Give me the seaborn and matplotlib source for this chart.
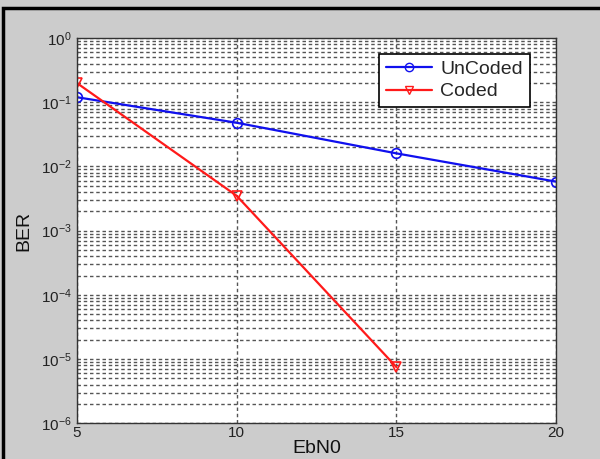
import numpy as np
import pandas as pd
import seaborn as sns
import matplotlib
matplotlib.use("Agg")
import matplotlib.pyplot as plt
from matplotlib.ticker import LogLocator, NullFormatter
from matplotlib.patches import Rectangle
from matplotlib.lines import Line2D

ebn0_uncoded = [5, 10, 15, 20]
ber_uncoded = [0.12, 0.048, 0.016, 0.0058]
ebn0_coded = [5, 10, 15]
ber_coded = [0.2, 0.0035, 7.5e-6]

sns.set_theme(style="white")
plt.rcParams['font.family'] = ['Liberation Sans', 'DejaVu Sans']

df = pd.concat([
    pd.DataFrame({"EbN0": ebn0_uncoded, "BER": ber_uncoded, "series": "UnCoded"}),
    pd.DataFrame({"EbN0": ebn0_coded, "BER": ber_coded, "series": "Coded"}),
])

fig = plt.figure(figsize=(6, 4.59), dpi=100, facecolor="#cccccc")
ax = fig.add_axes([0.128, 0.078, 0.799, 0.839])
ax.set_facecolor("white")

sns.lineplot(data=df, x="EbN0", y="BER", hue="series", style="series",
             palette={"UnCoded": "#1010ee", "Coded": "#ff1a1a"},
             markers={"UnCoded": "o", "Coded": "v"}, dashes=False,
             markersize=7, markerfacecolor="none", markeredgewidth=1.2,
             linewidth=1.6, ax=ax, legend=False)
for line in ax.lines:
    line.set_markeredgecolor(line.get_color())
    line.set_markerfacecolor("none")

ax.set_yscale("log")
ax.set_ylim(1e-6, 1)
ax.set_xlim(5, 20)
ax.set_xticks([5, 10, 15, 20])
ax.yaxis.set_major_locator(LogLocator(base=10, numticks=10))
ax.yaxis.set_minor_locator(LogLocator(base=10, subs=np.arange(2, 10), numticks=20))
ax.yaxis.set_minor_formatter(NullFormatter())

grid_kw = dict(color="#555555", linestyle=(0, (2.5, 2)), linewidth=1.0)
ax.grid(True, which="major", axis="both", **grid_kw)
ax.grid(True, which="minor", axis="y", **grid_kw)
ax.set_axisbelow(True)

ax.tick_params(axis="both", which="both", direction="in", labelsize=11, colors="#222222")
ax.tick_params(axis="both", which="major", length=4)
ax.tick_params(axis="x", which="major", pad=2)
ax.tick_params(axis="y", which="minor", length=2)
for s in ax.spines.values():
    s.set_color("#333333")
    s.set_linewidth(1.0)

ax.set_xlabel("EbN0", fontsize=14, color="#111111", labelpad=0)
ax.set_ylabel("BER", fontsize=14, color="#111111", labelpad=6)

handles = [
    Line2D([], [], color="#1010ee", marker="o", markerfacecolor="none", markersize=6, linewidth=1.6),
    Line2D([], [], color="#ff1a1a", marker="v", markerfacecolor="none", markersize=6, linewidth=1.6),
]
leg = ax.legend(handles, ["UnCoded", "Coded"], loc="upper right",
                bbox_to_anchor=(0.965, 0.985), fontsize=14, frameon=True,
                fancybox=False, edgecolor="black", framealpha=1,
                handlelength=2.4, borderpad=0.35, labelspacing=0.25, handletextpad=0.4)
leg.get_frame().set_linewidth(1.2)

fig.patches.append(Rectangle((0.005, -0.01), 1.2, 0.993, transform=fig.transFigure,
                             fill=False, edgecolor="black", linewidth=2.5))

fig.savefig("out.png", dpi=100, facecolor=fig.get_facecolor())
